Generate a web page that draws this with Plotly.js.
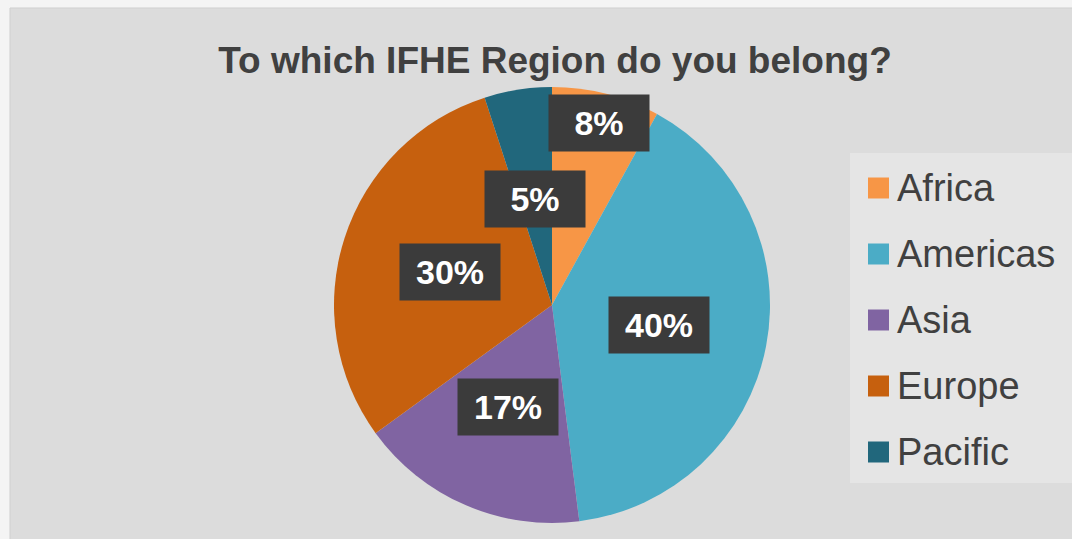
<!DOCTYPE html>
<html>
<head>
<meta charset="utf-8">
<script src="https://cdn.plot.ly/plotly-3.0.1.min.js"></script>
<style>html,body{margin:0;padding:0;background:#f4f4f4;}#chart{width:1072px;height:539px;}</style>
</head>
<body>
<div id="chart"></div>
<script>
const regions = ['Africa', 'Americas', 'Asia', 'Europe', 'Pacific'];
const shares = [8, 40, 17, 30, 5];
const sliceColors = ['#f79646', '#4bacc6', '#8064a2', '#c6600e', '#21677c'];
const chartTitle = 'To which IFHE Region do you belong?';

const W = 1072, H = 539;
const cx = 552, cy = 305, R = 218;
const labelRadial = [0.86, 0.5, 0.51, 0.49, 0.49];

const total = shares.reduce((a, b) => a + b, 0);
let cum = 0;
const annotations = [];
const shapes = [];

// chart area background
shapes.push({type: 'rect', xref: 'paper', yref: 'paper', x0: 10 / W, x1: 1.01, y0: -0.01, y1: 1 - 8 / H,
  fillcolor: '#dcdcdc', line: {color: '#cfcfcf', width: 1}, layer: 'below'});
// legend box
shapes.push({type: 'rect', xref: 'paper', yref: 'paper', x0: 850 / W, x1: 1.01, y0: 1 - 483 / H, y1: 1 - 153 / H,
  fillcolor: '#e5e5e5', line: {width: 0}, layer: 'below'});

shares.forEach((v, i) => {
  const mid = (cum + v / 2) / total * 2 * Math.PI;
  cum += v;
  const px = cx + labelRadial[i] * R * Math.sin(mid);
  const py = cy - labelRadial[i] * R * Math.cos(mid);
  annotations.push({
    xref: 'paper', yref: 'paper', x: px / W, y: 1 - py / H,
    text: '<b>' + Math.round(v / total * 100) + '%</b>', showarrow: false,
    font: {family: 'Liberation Sans, Arial, sans-serif', size: 34, color: '#ffffff'},
    bgcolor: '#3b3b3b', width: 98, height: 54, xanchor: 'center', yanchor: 'middle'
  });
  // legend entries
  const ly = 188 + i * 66;
  shapes.push({type: 'rect', xref: 'paper', yref: 'paper', x0: 868 / W, x1: 889 / W,
    y0: 1 - (ly + 10.5) / H, y1: 1 - (ly - 10.5) / H, fillcolor: sliceColors[i], line: {width: 0}});
  annotations.push({xref: 'paper', yref: 'paper', x: 895 / W, y: 1 - ly / H, xanchor: 'left', yanchor: 'middle',
    text: regions[i], showarrow: false,
    font: {family: 'Liberation Sans, Arial, sans-serif', size: 38, color: '#404040'}});
});

const data = [{
  type: 'pie', labels: regions, values: shares, sort: false, direction: 'clockwise', rotation: 0,
  marker: {colors: sliceColors, line: {width: 0}}, textinfo: 'none', showlegend: false,
  domain: {x: [(cx - R) / W, (cx + R) / W], y: [1 - (cy + R) / H, 1 - (cy - R) / H]}
}];

const layout = {
  width: W, height: H, margin: {l: 0, r: 0, t: 0, b: 0},
  paper_bgcolor: '#f4f4f4', plot_bgcolor: '#f4f4f4',
  title: {text: '<b>' + chartTitle + '</b>', x: 555 / W, xanchor: 'center', y: 1 - 60 / H, yanchor: 'middle',
    font: {family: 'Liberation Sans, Arial, sans-serif', size: 37, color: '#404040'}},
  showlegend: false, shapes: shapes, annotations: annotations
};

Plotly.newPlot('chart', data, layout, {displayModeBar: false, staticPlot: true});
</script>
</body>
</html>
